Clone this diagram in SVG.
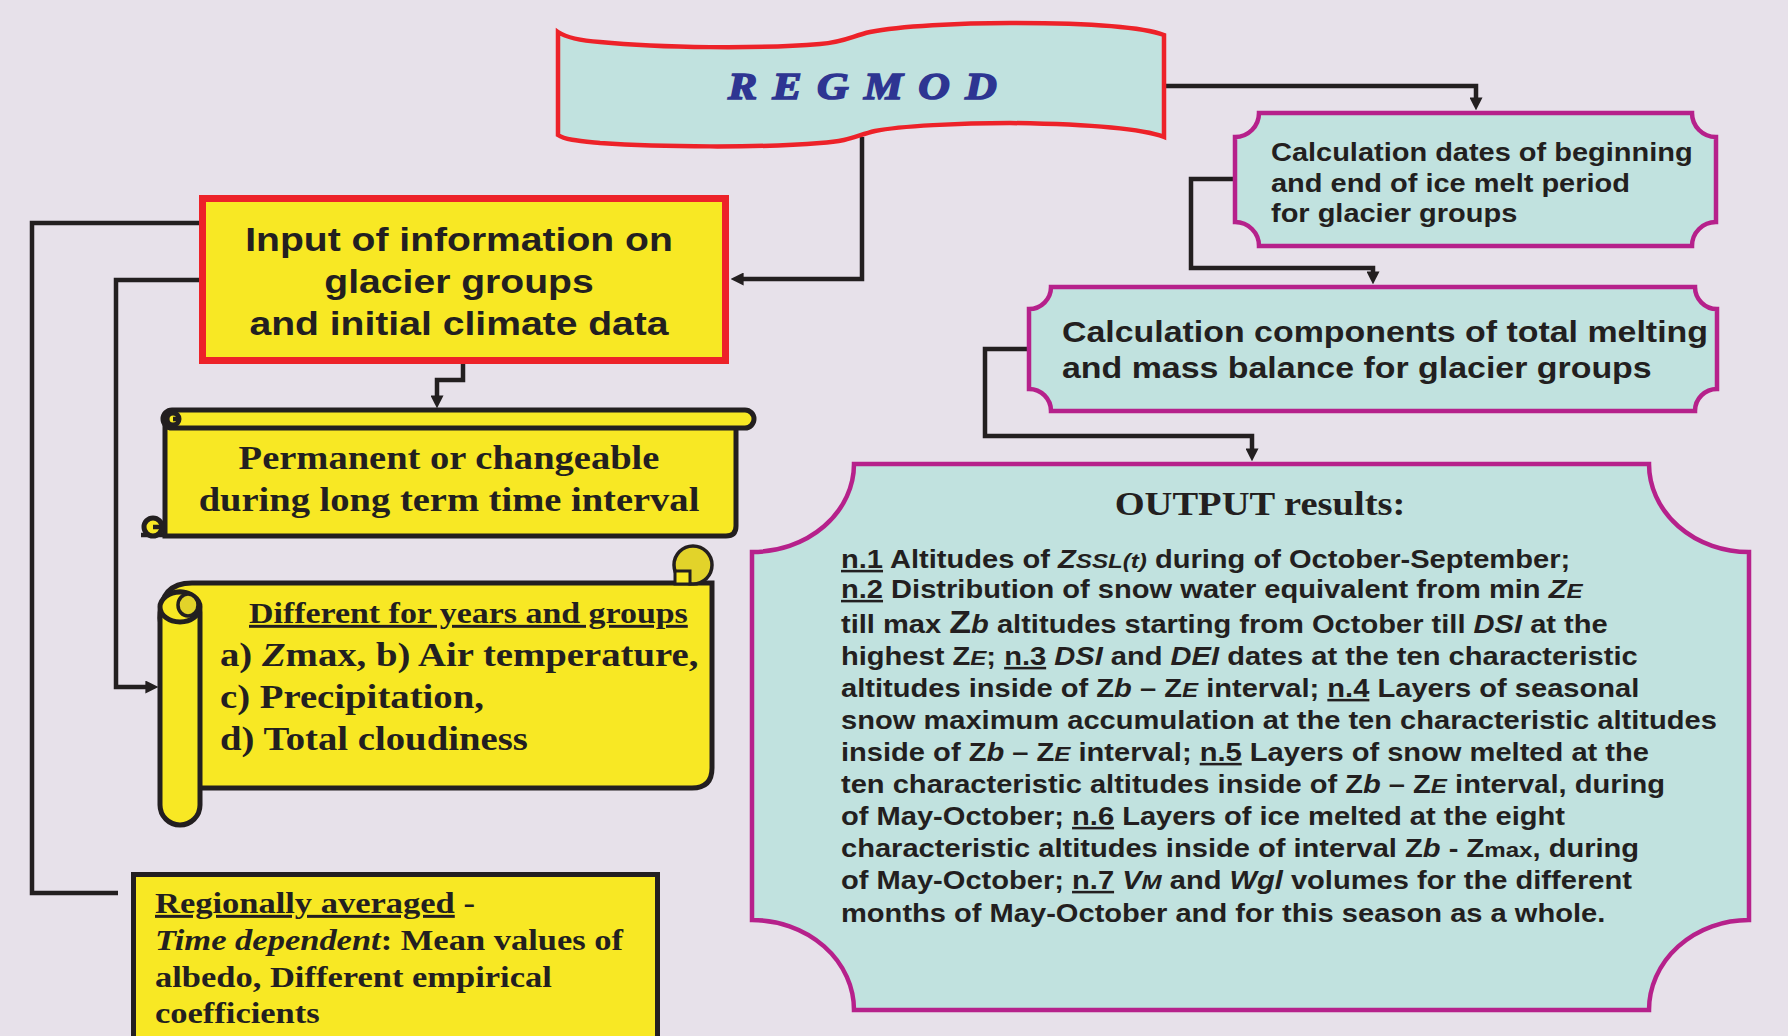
<svg xmlns="http://www.w3.org/2000/svg" width="1788" height="1036" viewBox="0 0 1788 1036">
<defs>
<marker id="ah" viewBox="0 0 10 10" refX="2" refY="5" markerWidth="13" markerHeight="13" markerUnits="userSpaceOnUse" orient="auto"><path d="M0,0 L10,5 L0,10 Z" fill="#231f20"/></marker>
<style>
.sans{font-family:"Liberation Sans",Arial,sans-serif;font-weight:bold;fill:#231f20}
.serif{font-family:"Liberation Serif","Times New Roman",serif;font-weight:bold;fill:#231f20}
.regmod{font-family:"Liberation Serif","Times New Roman",serif;font-weight:bold;font-style:italic;fill:#2e3592;stroke:#2e3592;stroke-width:1.6;font-size:38px;letter-spacing:13.4px}
.it{font-style:italic}
.sm{font-size:21px}
.u{text-decoration:underline}
.conn{fill:none;stroke:#231f20;stroke-width:4.5}
.yel{fill:#f8e824;stroke:#231f20;stroke-width:5}
.dk{fill:#e2d32a;stroke:#231f20;stroke-width:3.5}
.teal{fill:#c1e2df;stroke:#b6218b;stroke-width:4.5}
</style>
</defs>
<rect width="1788" height="1036" fill="#e7e1ea"/>

<g id="connectors">
<path class="conn" d="M862,137 V279 H741" marker-end="url(#ah)"/>
<path class="conn" d="M463,364 V380 H437 V398" marker-end="url(#ah)"/>
<path class="conn" d="M199,280 H116 V687 H148" marker-end="url(#ah)"/>
<path class="conn" d="M199,223 H32 V893 H118"/>
<path class="conn" d="M1164,86 H1476 V100" marker-end="url(#ah)"/>
<path class="conn" d="M1233,179 H1191 V268 H1373 V274" marker-end="url(#ah)"/>
<path class="conn" d="M1027,349 H985 V436 H1252 V451" marker-end="url(#ah)"/>
</g>

<g id="regmod">
<path d="M558,32 Q570,40 600,42 C660,48 760,49 820,44 C845,42 852,36 870,32 C900,26 960,23 1010,23 C1080,23 1140,26 1164,35 V137 C1140,128 1080,124 1010,123 C960,123 900,126 875,131 C855,136 850,141 820,143 C760,148 660,147 600,143 C580,141 565,140 558,135 Z" fill="#c1e2df" stroke="#ed2229" stroke-width="4.5"/>
<text class="regmod" transform="translate(870,99) scale(1.15,1)" text-anchor="middle">REGMOD</text>
</g>

<g id="input">
<rect x="202.5" y="198.5" width="523" height="162" fill="#f8e824" stroke="#ed2229" stroke-width="7"/>
<g class="sans" font-size="34" text-anchor="middle" transform="translate(459,0) scale(1.15,1)">
<text y="251">Input of information on</text>
<text y="293">glacier groups</text>
<text y="335">and initial climate data</text>
</g>
</g>

<g id="permanent">
<path class="yel" d="M165,427 V536 H726 Q736,536 736,526 V427 Z"/>
<path class="conn" d="M141,535 H166"/>
<circle class="yel" stroke-width="4" cx="153" cy="527" r="9"/>
<path class="conn" stroke-width="3" d="M153,527 H160"/>
<rect class="yel" x="163" y="410" width="591" height="18" rx="9"/>
<circle class="yel" stroke-width="3" cx="173" cy="419" r="6"/>
<path class="conn" stroke-width="2.5" d="M173,419 H179"/>
<g class="serif" font-size="33.5" text-anchor="middle" transform="translate(449,0) scale(1.15,1)">
<text y="469">Permanent or changeable</text>
<text y="511">during long term time interval</text>
</g>
</g>

<g id="different">
<path class="yel" d="M160,618 Q160,583 192,583 H712 V768 Q712,788 692,788 H180 Z"/>
<circle class="dk" stroke-width="5" cx="693" cy="565" r="19"/>
<path fill="#f8e824" stroke="#231f20" stroke-width="3" d="M675,584 V571 H690 V584 Z"/>
<rect class="yel" x="160" y="592" width="40" height="233" rx="20"/>
<ellipse class="yel" stroke-width="4" cx="180" cy="607" rx="20" ry="15"/>
<ellipse class="dk" cx="188" cy="605" rx="10" ry="11"/>
<g class="serif">
<text font-size="29.5" transform="translate(249,623) scale(1.15,1)"><tspan class="u">Different for years and groups</tspan></text>
<g font-size="33.7" transform="translate(220,0) scale(1.15,1)">
<text y="666">a) <tspan class="it">Z</tspan>max, b) Air temperature,</text>
<text y="708">c) Precipitation,</text>
<text y="750">d) Total cloudiness</text>
</g>
</g>
</g>

<g id="regionally">
<rect x="133.5" y="874.5" width="524" height="200" fill="#f8e824" stroke="#231f20" stroke-width="5"/>
<g class="serif" font-size="30" transform="translate(155,0) scale(1.15,1)">
<text y="913"><tspan class="u">Regionally averaged</tspan> -</text>
<text y="950"><tspan class="it">Time dependent</tspan>: Mean values of</text>
<text y="987">albedo, Different empirical</text>
<text y="1023">coefficients</text>
</g>
</g>

<g id="calcdates">
<path class="teal" d="M1259,113 H1692 A24,24 0 0 0 1716,137 V222 A24,24 0 0 0 1692,246 H1259 A24,24 0 0 0 1235,222 V137 A24,24 0 0 0 1259,113 Z"/>
<g class="sans" font-size="25.2" transform="translate(1271,0) scale(1.15,1)">
<text y="161">Calculation dates of beginning</text>
<text y="192">and end of ice melt period</text>
<text y="222">for glacier groups</text>
</g>
</g>

<g id="calccomp">
<path class="teal" d="M1051,287 H1695 A22,22 0 0 0 1717,309 V389 A22,22 0 0 0 1695,411 H1051 A22,22 0 0 0 1029,389 V309 A22,22 0 0 0 1051,287 Z"/>
<g class="sans" font-size="29.5" transform="translate(1062,0) scale(1.15,1)">
<text y="342">Calculation components of total melting</text>
<text y="378">and mass balance for glacier groups</text>
</g>
</g>

<g id="output">
<path class="teal" d="M854,464 H1649 A100,88 0 0 0 1749,552 V920 A100,90 0 0 0 1649,1010 H854 A102,90 0 0 0 752,920 V552 A102,88 0 0 0 854,464 Z"/>
<text class="serif" font-size="33.5" text-anchor="middle" transform="translate(1260,515) scale(1.15,1)">OUTPUT results:</text>
<g class="sans" font-size="25.3" transform="translate(841,0) scale(1.15,1)">
<text y="568"><tspan class="u">n.1</tspan> Altitudes of <tspan class="it">Z<tspan class="sm">SSL(t)</tspan></tspan> during of October-September;</text>
<text y="598"><tspan class="u">n.2</tspan> Distribution of snow water equivalent from min <tspan class="it">Z<tspan class="sm">E</tspan></tspan></text>
<text y="633">till max <tspan font-size="31">Z</tspan><tspan class="it">b</tspan> altitudes starting from October till <tspan class="it">DSI</tspan> at the</text>
<text y="665">highest Z<tspan class="it sm">E</tspan>; <tspan class="u">n.3</tspan> <tspan class="it">DSI</tspan> and <tspan class="it">DEI</tspan> dates at the ten characteristic</text>
<text y="697">altitudes inside of Z<tspan class="it">b</tspan> – Z<tspan class="it sm">E</tspan> interval; <tspan class="u">n.4</tspan> Layers of  seasonal</text>
<text y="729">snow maximum accumulation at the ten characteristic altitudes</text>
<text y="761">inside of Z<tspan class="it">b</tspan> – Z<tspan class="it sm">E</tspan> interval; <tspan class="u">n.5</tspan> Layers of snow melted at the</text>
<text y="793">ten characteristic altitudes inside of Z<tspan class="it">b</tspan> – Z<tspan class="it sm">E</tspan> interval, during</text>
<text y="825">of May-October; <tspan class="u">n.6</tspan> Layers of ice melted at the eight</text>
<text y="857">characteristic altitudes inside of interval Z<tspan class="it">b</tspan> - Z<tspan class="sm">max</tspan>, during</text>
<text y="889">of May-October; <tspan class="u">n.7</tspan> <tspan class="it">V<tspan class="sm">M</tspan></tspan> and <tspan class="it">Wgl</tspan> volumes for the different</text>
<text y="922">months of May-October and for this season as a whole.</text>
</g>
</g>
</svg>
